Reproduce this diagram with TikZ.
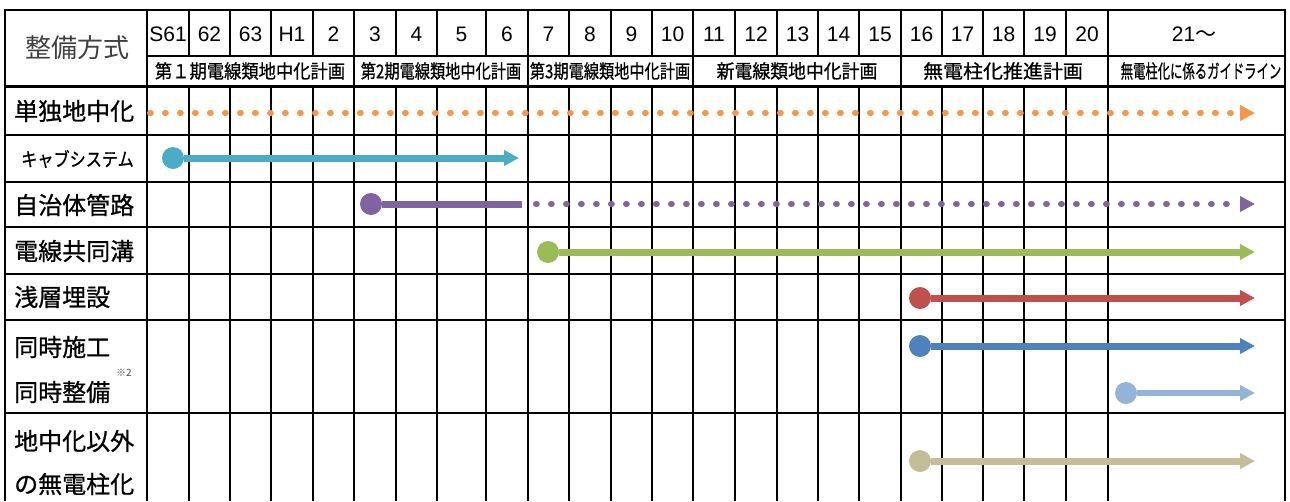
\documentclass[tikz,border=0pt]{standalone}
\usepackage{fontspec}
\setmainfont{Liberation Sans}
\newfontfamily\jp{Noto Sans CJK JP}
\newfontfamily\jpb{Noto Sans CJK JP}[FakeBold=0.8]
\usepackage{graphicx}
\usepackage{xcolor}
\usetikzlibrary{arrows.meta}
\definecolor{cOrange}{HTML}{F79646}
\definecolor{cTeal}{HTML}{4BACC6}
\definecolor{cPurple}{HTML}{8064A2}
\definecolor{cGreen}{HTML}{9BBB59}
\definecolor{cRed}{HTML}{C0504D}
\definecolor{cBlue}{HTML}{4F81BD}
\definecolor{cSky}{HTML}{95B3D7}
\definecolor{cTan}{HTML}{C4BD97}
\tikzset{
  ruleline/.style={line width=2pt},
  yr/.style={inner sep=0pt,font=\fontsize{21}{21}\selectfont},
  per/.style={inner sep=0pt,font=\jpb\fontsize{19}{19}\selectfont},
  lbl/.style={anchor=west,inner sep=0pt,font=\jpb\fontsize{24}{24}\selectfont},
  knob/.style={circle,fill=#1,inner sep=0pt,minimum size=22pt},
  bar/.style={draw=#1,line width=7pt,-{Triangle[length=15pt,width=15pt]}},
  dotline/.style={draw=#1,line width=6pt,line cap=round,dash pattern=on 0.8pt off 14.2pt,
    -{Triangle[length=15pt,width=15pt]}}
}
\begin{document}
\begin{tikzpicture}[x=1pt,y=-1pt]
  \path[use as bounding box,fill=white] (0,0) rectangle (1290,501);
  % table rules
  \foreach \x in {189,230,271,313,396,437,486,569,611,652,735,777,818,859,942,983,1024,1066}{
    \draw[ruleline] (\x,10) -- (\x,56);
    \draw[ruleline] (\x,86) -- (\x,501);
  }
  \foreach \x in {147,354,528,693,901,1108}
    \draw[ruleline,line width=2.5pt] (\x,10) -- (\x,501);
  \draw[ruleline,line width=2.5pt] (5,501) -- (5,10) -- (1285,10) -- (1285,501);
  \draw[ruleline] (147,56) -- (1285,56);
  \draw[ruleline,line width=3pt] (5,86) -- (1285,86);
  \foreach \y in {135,182,227,274,320,413}
    \draw[ruleline] (5,\y) -- (1285,\y);

  % header
  \node[lbl,anchor=center,font=\jp\fontsize{26}{26}\selectfont,text=black!75] (head) at (77,48) {整備方式};
  \foreach \a/\b/\t [count=\i] in {147/189/S61,189/230/62,230/271/63,271/313/H1,313/354/2,
      354/396/3,396/437/4,437/486/5,486/528/6,528/569/7,569/611/8,611/652/9,652/693/10,
      693/735/11,735/777/12,777/818/13,818/859/14,859/901/15,901/942/16,942/983/17,
      983/1024/18,1024/1066/19,1066/1108/20}
    \node[yr] (yr\i) at ({(\a+\b)/2},34) {\t};
  \node[yr] (yr24) at (1194,34) {21{\jp 〜}};
  \node[per] (pd1) at (250,71) {\scalebox{0.91}[1]{第１期電線類地中化計画}};
  \node[per] (pd2) at (441,71) {\scalebox{0.80}[1]{第2期電線類地中化計画}};
  \node[per] (pd3) at (610,71) {\scalebox{0.80}[1]{第3期電線類地中化計画}};
  \node[per] (pd4) at (797,71) {\scalebox{0.94}[1]{新電線類地中化計画}};
  \node[per] (pd5) at (1003,71) {\scalebox{1.05}[1]{無電柱化推進計画}};
  \node[per] (pd6) at (1201,71) {\scalebox{0.65}[1]{無電柱化に係るガイドライン}};

  % row labels
  \node[lbl] (r1) at (14,111) {単独地中化};
  \node[lbl,font=\jpb\fontsize{19}{19}\selectfont] (r2) at (21,159) {\scalebox{0.85}[1]{キャブシステム}};
  \node[lbl] (r3) at (14,205) {自治体管路};
  \node[lbl] (r4) at (14,251) {電線共同溝};
  \node[lbl] (r5) at (14,297) {浅層埋設};
  \node[lbl] (r6) at (14,347) {同時施工};
  \node[lbl] (r7) at (14,392) {同時整備};
  \node[inner sep=0pt,font=\jp\fontsize{10}{10}\selectfont,text=black!70] (r7n) at (124,373) {※2};
  \node[lbl] (r8) at (14,441) {地中化以外};
  \node[lbl] (r9) at (14,484) {の無電柱化};

  % periods
  \coordinate (solo-s) at (150,113);
  \coordinate (solo-e) at (1255,113);
  \draw[dotline=cOrange] (solo-s) -- (solo-e);

  \node[knob=cTeal] (cab) at (173,158) {};
  \coordinate (cab-e) at (519,158);
  \draw[bar=cTeal] (cab) -- (cab-e);

  \node[knob=cPurple] (jic) at (371,204) {};
  \coordinate (jic-m) at (522,204);
  \coordinate (jic-d) at (536,204);
  \coordinate (jic-e) at (1255,204);
  \draw[draw=cPurple,line width=7pt] (jic) -- (jic-m);
  \draw[dotline=cPurple] (jic-d) -- (jic-e);

  \node[knob=cGreen] (kyo) at (548,252) {};
  \coordinate (kyo-e) at (1255,252);
  \draw[bar=cGreen] (kyo) -- (kyo-e);

  \node[knob=cRed] (sen) at (920,298) {};
  \coordinate (sen-e) at (1255,298);
  \draw[bar=cRed] (sen) -- (sen-e);

  \node[knob=cBlue] (dse) at (920,346) {};
  \coordinate (dse-e) at (1255,346);
  \draw[bar=cBlue] (dse) -- (dse-e);

  \node[knob=cSky] (dsi) at (1126,393) {};
  \coordinate (dsi-e) at (1255,393);
  \draw[bar=cSky,line width=6pt] (dsi) -- (dsi-e);

  \node[knob=cTan] (etc) at (920,461) {};
  \coordinate (etc-e) at (1255,461);
  \draw[bar=cTan] (etc) -- (etc-e);
\end{tikzpicture}
\end{document}
